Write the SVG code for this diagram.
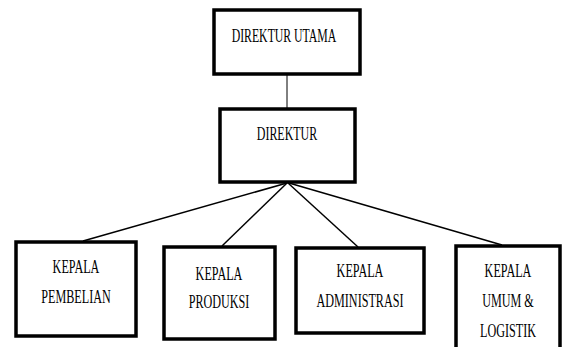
<svg xmlns="http://www.w3.org/2000/svg" width="568" height="347" viewBox="0 0 568 347">
<style>
.box{fill:#fff;stroke:#000;stroke-width:3.5}
.t{font-family:"Liberation Serif","Times New Roman",serif;font-size:18px;fill:#000;text-anchor:middle}
.h{font-size:19px}
.c{stroke:#000;stroke-width:1.5;fill:none}
</style>
<rect width="568" height="347" fill="#fff"/>
<g id="connectors">
<line class="c" x1="287" y1="75" x2="287" y2="108" style="stroke-width:1"/>
<line class="c" x1="287" y1="183" x2="83" y2="241"/>
<line class="c" x1="287" y1="183" x2="222" y2="246"/>
<line class="c" x1="288" y1="183" x2="358" y2="247"/>
<line class="c" x1="289" y1="183" x2="502" y2="245"/>
</g>
<g id="direktur-utama">
<rect class="box" x="214" y="10" width="146" height="64"/>
<text class="t h" transform="translate(284 42) scale(0.62 1)">DIREKTUR UTAMA</text>
</g>
<g id="direktur">
<rect class="box" x="220" y="109" width="135" height="73"/>
<text class="t h" transform="translate(287 140) scale(0.63 1)">DIREKTUR</text>
</g>
<g id="kepala-pembelian">
<rect class="box" x="16" y="242" width="120" height="94"/>
<text class="t" transform="translate(76 273) scale(0.675 1)">KEPALA</text>
<text class="t" transform="translate(76 303) scale(0.675 1)">PEMBELIAN</text>
</g>
<g id="kepala-produksi">
<rect class="box" x="164" y="247" width="111" height="92"/>
<text class="t" transform="translate(219 280) scale(0.675 1)">KEPALA</text>
<text class="t" transform="translate(219 308) scale(0.675 1)">PRODUKSI</text>
</g>
<g id="kepala-administrasi">
<rect class="box" x="296" y="248" width="128" height="85"/>
<text class="t" transform="translate(360 277) scale(0.675 1)">KEPALA</text>
<text class="t" transform="translate(360 307) scale(0.675 1)">ADMINISTRASI</text>
</g>
<g id="kepala-umum-logistik">
<rect class="box" x="456" y="246" width="104" height="110"/>
<text class="t" transform="translate(508 277) scale(0.675 1)">KEPALA</text>
<text class="t" transform="translate(508 307) scale(0.675 1)">UMUM &amp;</text>
<text class="t" transform="translate(508 337) scale(0.675 1)">LOGISTIK</text>
</g>
</svg>
